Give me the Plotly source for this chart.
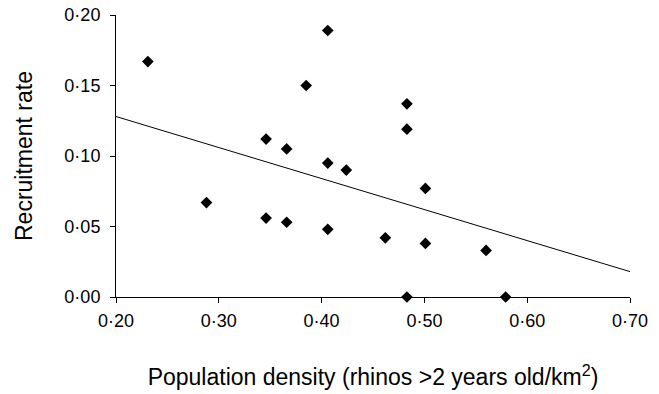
import plotly.graph_objects as go

density = [0.231, 0.288, 0.346, 0.346, 0.366, 0.366, 0.385, 0.406, 0.406, 0.406,
           0.424, 0.483, 0.483, 0.501, 0.462, 0.501, 0.560, 0.483, 0.579]
recruitment = [0.167, 0.067, 0.112, 0.056, 0.105, 0.053, 0.150, 0.189, 0.095, 0.048,
               0.090, 0.137, 0.119, 0.077, 0.042, 0.038, 0.033, 0.0, 0.0]
trend_x = [0.20, 0.70]
trend_y = [0.128, 0.018]

x_ticks = [0.2, 0.3, 0.4, 0.5, 0.6, 0.7]
x_labels = ["0·20", "0·30", "0·40", "0·50", "0·60", "0·70"]
y_ticks = [0.0, 0.05, 0.10, 0.15, 0.20]
y_labels = ["0·00", "0·05", "0·10", "0·15", "0·20"]

fig = go.Figure()
fig.add_trace(go.Scatter(x=trend_x, y=trend_y, mode="lines",
                         line=dict(color="black", width=1), showlegend=False, cliponaxis=False))
fig.add_trace(go.Scatter(x=density, y=recruitment, mode="markers",
                         marker=dict(symbol="diamond", size=9, color="black"),
                         showlegend=False, cliponaxis=False))

font = "Liberation Sans, Arial, sans-serif"
fig.update_layout(
    width=659, height=394,
    margin=dict(l=116, r=29, t=15, b=97),
    plot_bgcolor="white", paper_bgcolor="white",
    font=dict(family=font, color="black"),
    xaxis=dict(range=[0.2, 0.7], tickvals=x_ticks, ticktext=x_labels, automargin=False,
               showgrid=False, zeroline=False, showline=True, linecolor="black", linewidth=1,
               ticks="outside", ticklen=5, tickcolor="black", tickfont=dict(size=18),
               ticklabelstandoff=2,
               title=dict(text="Population density (rhinos >2 years old/km<sup>2</sup>)",
                          font=dict(size=23), standoff=39)),
    yaxis=dict(range=[0, 0.2], tickvals=y_ticks, ticktext=y_labels, automargin=False,
               showgrid=False, zeroline=False, showline=True, linecolor="black", linewidth=1,
               ticks="outside", ticklen=5, tickcolor="black", tickfont=dict(size=18),
               ticklabelstandoff=6,
               title=dict(text="Recruitment rate", font=dict(size=23), standoff=25)),
)
fig.write_html("out.html")
